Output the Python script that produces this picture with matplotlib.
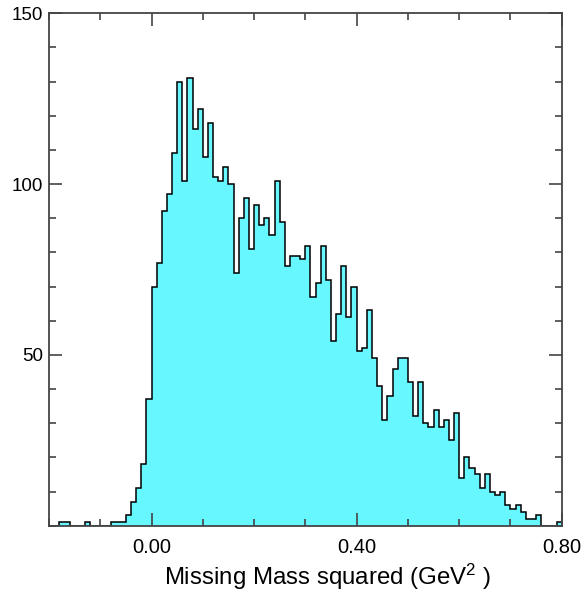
import numpy as np
import matplotlib
matplotlib.use("Agg")
import matplotlib.pyplot as plt
from matplotlib.ticker import MultipleLocator, FixedLocator

plt.rcParams['font.family'] = ['Liberation Sans', 'DejaVu Sans']
plt.rcParams['mathtext.default'] = 'regular'

# Histogram: 100 bins of width 0.01 from -0.2 to 0.8
bin_edges = np.round(np.linspace(-0.2, 0.8, 101), 4)
counts = [
    0, 0, 1, 1, 0, 0, 0, 1, 0, 0,
    0, 0, 1, 1, 1, 3, 7, 11, 18, 37,
    70, 77, 92, 97, 109, 130, 101, 131, 116, 122,
    108, 118, 102, 101, 105, 100, 74, 90, 96, 81,
    94, 88, 90, 85, 101, 89, 76, 79, 79, 78,
    82, 67, 71, 82, 72, 54, 62, 76, 61, 70,
    51, 52, 63, 49, 41, 31, 38, 46, 49, 49,
    42, 32, 42, 30, 29, 34, 29, 31, 25, 33,
    14, 20, 17, 15, 11, 15, 10, 9, 10, 6,
    5, 6, 4, 2, 2, 3, 0, 0, 0, 1,
]
x_ticks = [0.0, 0.4, 0.8]
x_tick_labels = ["0.00", "0.40", "0.80"]
y_ticks = [50, 100, 150]
y_tick_labels = ["50", "100", "150"]
x_label = "Missing Mass squared (GeV$^{2}$ )"

fig = plt.figure(figsize=(5.87, 5.92), dpi=100)
ax = fig.add_axes([49/587, 1 - 525.7/592, (561.7 - 49)/587, (525.7 - 13.3)/592])

ax.stairs(counts, bin_edges, fill=True, color='#66F7FF', linewidth=0)
ax.stairs(counts, bin_edges, fill=False, color='black', linewidth=1.1, baseline=0)

ax.set_xlim(-0.2, 0.8)
ax.set_ylim(0, 150)

ax.xaxis.set_major_locator(FixedLocator(x_ticks))
ax.set_xticklabels(x_tick_labels)
ax.xaxis.set_minor_locator(MultipleLocator(0.1))
ax.yaxis.set_major_locator(FixedLocator(y_ticks))
ax.set_yticklabels(y_tick_labels)
ax.yaxis.set_minor_locator(MultipleLocator(10))

ax.tick_params(which='both', direction='in', top=True, right=True, color='#444444', width=1.2)
ax.tick_params(which='major', length=9.5)
ax.tick_params(which='minor', length=5)
ax.tick_params(axis='x', which='major', labelsize=14.5, pad=9)
ax.tick_params(axis='y', which='major', labelsize=13.5, pad=4.5)
for s in ax.spines.values():
    s.set_color('#444444')
    s.set_linewidth(1.3)

fig.text(164/587, (592 - 584.5)/592, x_label, fontsize=17.3, ha='left', va='baseline')

fig.savefig("out.png", dpi=100)
